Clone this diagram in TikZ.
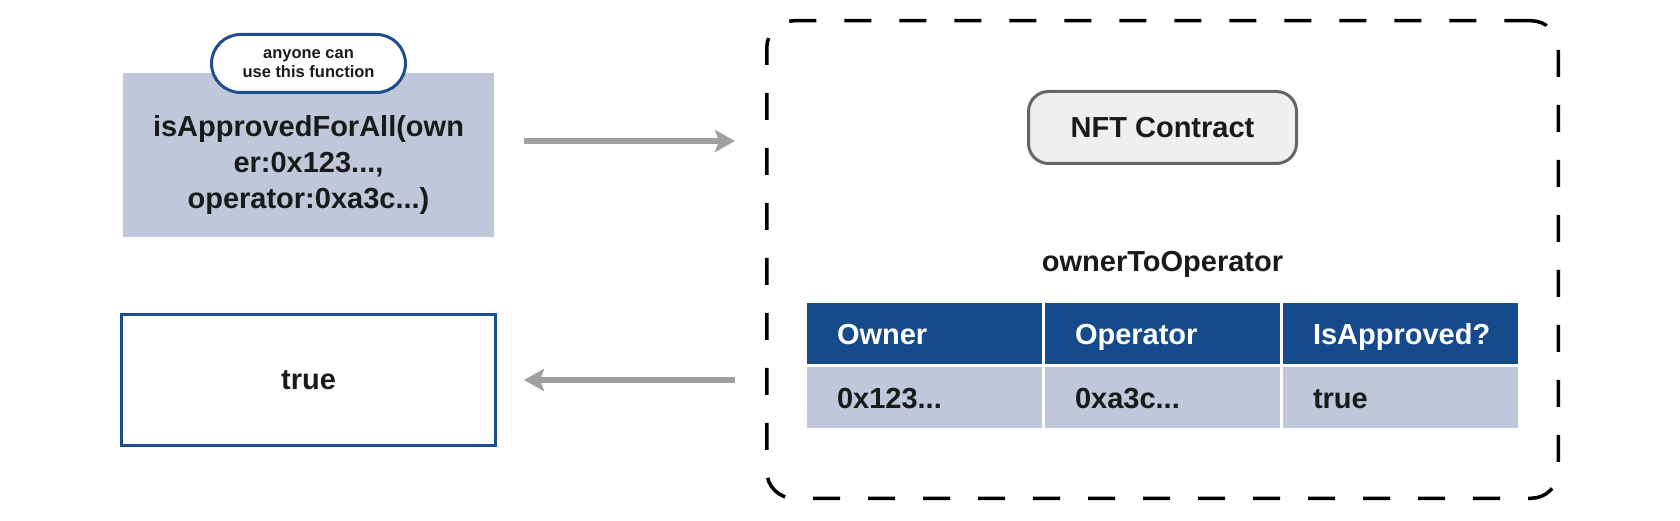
\documentclass[tikz,border=0pt]{standalone}
\usepackage{fontspec}
\setmainfont{Liberation Sans}
\usepackage{xcolor}
\usetikzlibrary{arrows.meta,positioning,calc}
\definecolor{headblue}{RGB}{22,75,139}
\definecolor{cellgray}{RGB}{192,199,219}
\definecolor{lineblue}{RGB}{31,78,140}
\definecolor{arrowgray}{RGB}{160,160,160}
\definecolor{nftfill}{RGB}{239,239,239}
\definecolor{nftline}{RGB}{102,102,102}
\definecolor{textblack}{RGB}{26,26,26}

\begin{document}
\begin{tikzpicture}[x=1pt, y=-1pt,
    bigfont/.style={font=\bfseries\fontsize{29}{36}\selectfont, text=textblack},
    fnbox/.style={rectangle, fill=cellgray, minimum width=371pt, minimum height=164pt},
    bubble/.style={rectangle, draw=lineblue, line width=3pt, fill=white, rounded corners=29pt, minimum width=194pt, minimum height=58pt, inner sep=0pt, align=center, font=\bfseries\fontsize{16.5}{19}\selectfont, text=textblack},
    resbox/.style={rectangle, draw=lineblue, line width=3pt, fill=white, minimum width=374pt, minimum height=131pt, bigfont},
    contractbox/.style={rectangle, draw=black, line width=3.5pt, dash pattern=on 27pt off 28pt, rounded corners=27pt, minimum width=791.5pt, minimum height=477.5pt},
    nftbox/.style={rectangle, draw=nftline, line width=3pt, fill=nftfill, rounded corners=20pt, minimum width=268pt, minimum height=72pt, bigfont},
    cell/.style={rectangle, minimum height=61pt, text width=175pt, inner xsep=30pt, inner ysep=0pt, outer sep=0pt, align=left, text height=21pt, text depth=0pt, font=\bfseries\fontsize{29}{36}\selectfont},
    headcell/.style={cell, fill=headblue, text=white},
    datacell/.style={cell, fill=cellgray, text=textblack},
    flow/.style={-{Stealth[length=20pt, width=22pt, inset=4pt]}, draw=arrowgray, fill=arrowgray, line width=6pt}
]
\useasboundingbox (0,0) rectangle (1680,521);

% Left side: the call and its answer
\node[fnbox] (func) at (308.5,155) {};
\node[bigfont, align=center] (functext) at ([yshift=-10pt]func.center) {isApprovedForAll(own\\er:0x123...,\\operator:0xa3c...)};
\node[bubble] (anyone) at (308.5,63.5) {anyone can\\use this function};

\node[resbox] (result) at (308.5,380) {true};

% Right side: the contract
\node[contractbox] (contract) at (1162.5,259.5) {};
\node[nftbox] (nft) at (1162.5,127.5) {NFT Contract};

% Mapping table
\node[headcell] (h1) at (924.5,333.5) {Owner};
\node[headcell, right=3pt of h1] (h2) {Operator};
\node[headcell, right=3pt of h2] (h3) {IsApproved?};
\node[datacell, below=3pt of h1] (d1) {0x123...};
\node[datacell, below=3pt of h2] (d2) {0xa3c...};
\node[datacell, below=3pt of h3] (d3) {true};

\node[bigfont, above=32pt of h2.north, anchor=base] (maptitle) {ownerToOperator};

% Arrows
\coordinate (callY) at ([yshift=14pt]func.east);
\draw[flow, shorten <=30pt, shorten >=30pt] (callY) -- (callY -| contract.west);
\draw[flow, shorten <=30pt, shorten >=27pt] (result.east -| contract.west) -- (result.east);

\end{tikzpicture}
\end{document}
